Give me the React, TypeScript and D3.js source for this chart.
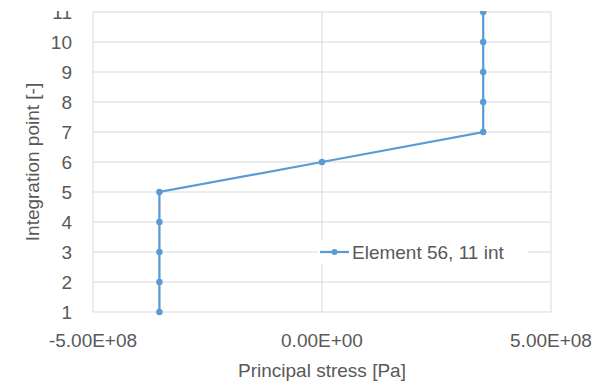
import React, { useRef, useEffect } from "react";
import * as d3 from "d3";

// Principal stress per integration point (Element 56, 11 int)
const integrationPoints = [1, 2, 3, 4, 5, 6, 7, 8, 9, 10, 11];
const stressValues = [
  -3.55e8, -3.55e8, -3.55e8, -3.55e8, -3.55e8, 0, 3.52e8, 3.52e8, 3.52e8, 3.52e8, 3.52e8,
];
const xTicks = [-5e8, 0, 5e8];
const yTicks = [1, 2, 3, 4, 5, 6, 7, 8, 9, 10, 11];
const seriesName = "Element 56, 11 int";
const xTitle = "Principal stress [Pa]";
const yTitle = "Integration point [-]";

const width = 607;
const height = 383;
const margin = { top: 12, right: 56, bottom: 71, left: 93 };
const font = "'Liberation Sans', Arial, sans-serif";
const textColor = "#595959";
const gridColor = "#d9d9d9";
const lineColor = "#5b9bd5";

const fmtExp = (v: number) => {
  if (v === 0) return "0.00E+00";
  const e = Math.floor(Math.log10(Math.abs(v)));
  const m = v / Math.pow(10, e);
  return `${m.toFixed(2)}E${e >= 0 ? "+" : "-"}${String(Math.abs(e)).padStart(2, "0")}`;
};

const StressChart: React.FC = () => {
  const svgRef = useRef<SVGSVGElement | null>(null);

  useEffect(() => {
    const svg = d3.select(svgRef.current);
    svg.selectAll("*").remove();

    const x = d3.scaleLinear().domain([-5e8, 5e8]).range([margin.left, width - margin.right]);
    const y = d3.scaleLinear().domain([1, 11]).range([height - margin.bottom, margin.top]);

    // the source image is cropped just above the top gridline
    svg.append("defs")
      .append("clipPath")
      .attr("id", "crop")
      .append("rect")
      .attr("x", 0)
      .attr("y", 11)
      .attr("width", width)
      .attr("height", height - 11);

    const g = svg.append("g").attr("clip-path", "url(#crop)");

    // horizontal gridlines
    g.selectAll(".hgrid")
      .data(yTicks)
      .enter()
      .append("line")
      .attr("x1", margin.left)
      .attr("x2", width - margin.right)
      .attr("y1", (d) => y(d))
      .attr("y2", (d) => y(d))
      .attr("stroke", gridColor)
      .attr("stroke-width", 1);

    // vertical gridlines
    g.selectAll(".vgrid")
      .data(xTicks)
      .enter()
      .append("line")
      .attr("x1", (d) => x(d))
      .attr("x2", (d) => x(d))
      .attr("y1", margin.top)
      .attr("y2", height - margin.bottom)
      .attr("stroke", gridColor)
      .attr("stroke-width", 1);

    // y tick labels
    g.selectAll(".ylab")
      .data(yTicks)
      .enter()
      .append("text")
      .attr("x", margin.left - 21)
      .attr("y", (d) => y(d))
      .attr("dy", "0.36em")
      .attr("text-anchor", "end")
      .attr("font-family", font)
      .attr("font-size", 19)
      .attr("fill", textColor)
      .text((d) => String(d));

    // x tick labels
    g.selectAll(".xlab")
      .data(xTicks)
      .enter()
      .append("text")
      .attr("x", (d) => x(d))
      .attr("y", height - margin.bottom + 35)
      .attr("text-anchor", "middle")
      .attr("font-family", font)
      .attr("font-size", 19)
      .attr("fill", textColor)
      .text((d) => fmtExp(d));

    // axis titles
    g.append("text")
      .attr("x", (margin.left + width - margin.right) / 2)
      .attr("y", height - 6)
      .attr("text-anchor", "middle")
      .attr("font-family", font)
      .attr("font-size", 19)
      .attr("fill", textColor)
      .text(xTitle);

    g.append("text")
      .attr("transform", `translate(39,${(margin.top + height - margin.bottom) / 2}) rotate(-90)`)
      .attr("text-anchor", "middle")
      .attr("font-family", font)
      .attr("font-size", 19)
      .attr("fill", textColor)
      .text(yTitle);

    const data = integrationPoints.map((p, i) => ({ p, s: stressValues[i] }));

    const line = d3
      .line<{ p: number; s: number }>()
      .x((d) => x(d.s))
      .y((d) => y(d.p));

    g.append("path")
      .datum(data)
      .attr("d", line)
      .attr("fill", "none")
      .attr("stroke", lineColor)
      .attr("stroke-width", 2.25);

    g.selectAll(".pt")
      .data(data)
      .enter()
      .append("circle")
      .attr("cx", (d) => x(d.s))
      .attr("cy", (d) => y(d.p))
      .attr("r", 3.2)
      .attr("fill", lineColor);

    // legend
    const lx = 320;
    const ly = y(3);
    const leg = g.append("g");
    leg.append("rect")
      .attr("x", lx - 2)
      .attr("y", ly - 12)
      .attr("width", 210)
      .attr("height", 24)
      .attr("fill", "#fff");
    leg.append("line")
      .attr("x1", lx)
      .attr("x2", lx + 29)
      .attr("y1", ly)
      .attr("y2", ly)
      .attr("stroke", lineColor)
      .attr("stroke-width", 2.25);
    leg.append("circle").attr("cx", lx + 14.5).attr("cy", ly).attr("r", 3).attr("fill", lineColor);
    leg.append("text")
      .attr("x", lx + 32)
      .attr("y", ly)
      .attr("dy", "0.36em")
      .attr("font-family", font)
      .attr("font-size", 19)
      .attr("fill", textColor)
      .text(seriesName);
  }, []);

  return <svg ref={svgRef} width={width} height={height} style={{ display: "block" }} />;
};

export default function App() {
  return (
    <div style={{ position: "absolute", left: 0, top: 0 }}>
      <StressChart />
    </div>
  );
}
